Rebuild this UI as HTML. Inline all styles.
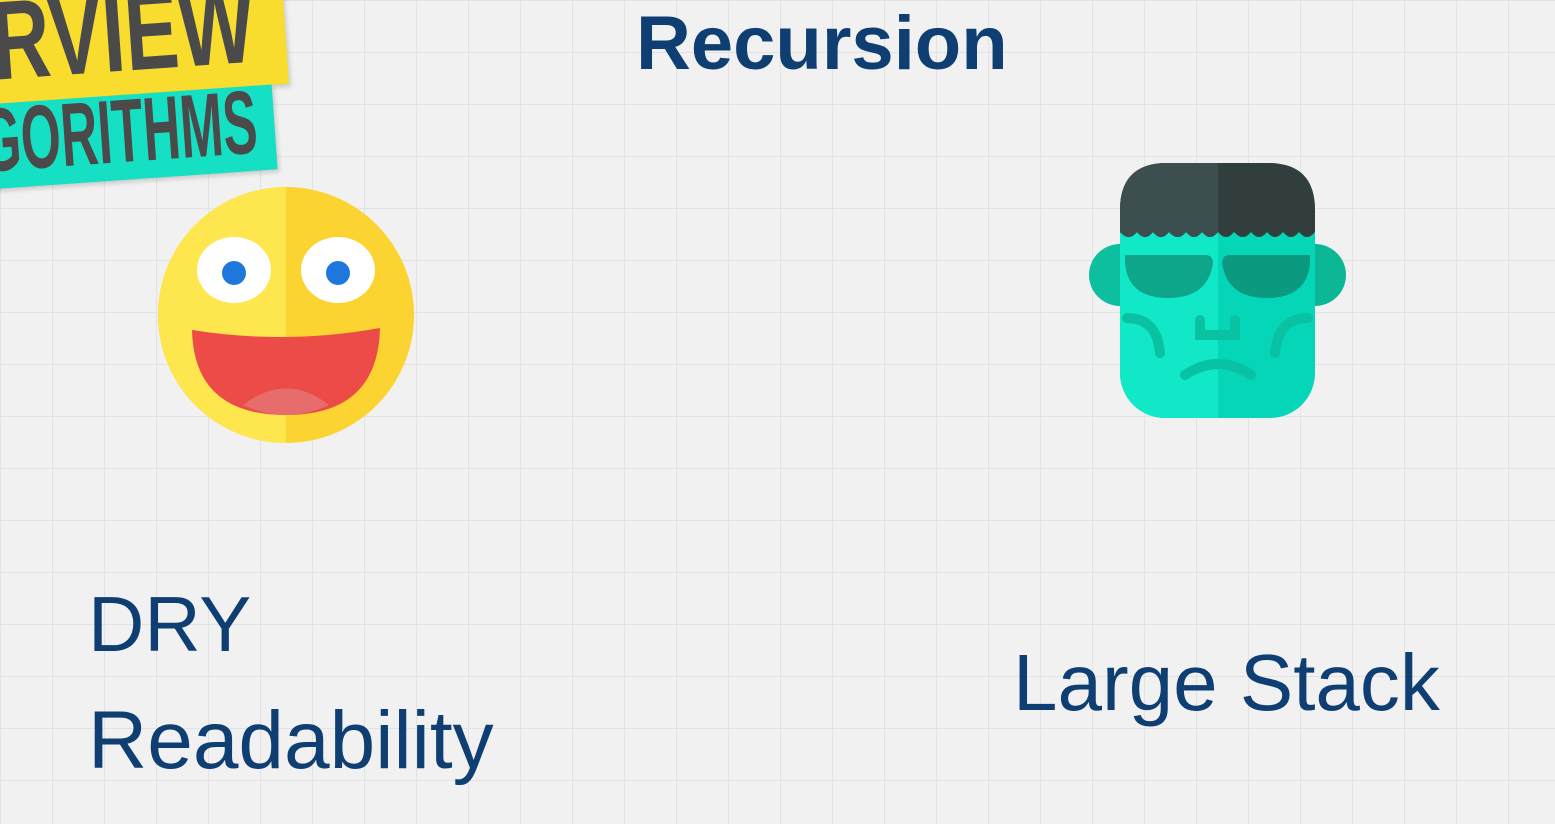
<!DOCTYPE html>
<html><head><meta charset="utf-8"><style>
body{margin:0;width:1555px;height:824px;overflow:hidden;position:relative;font-family:"Liberation Sans",sans-serif;
background-color:#f1f1f1;
background-image:linear-gradient(#e2e2e2 1px,transparent 1px),linear-gradient(90deg,#e2e2e2 1px,transparent 1px);
background-size:52px 52px;}
.t{position:absolute;color:#0f3e72;white-space:nowrap;line-height:1}
.b{position:absolute;font-weight:bold;color:#4a4a4a;white-space:nowrap;line-height:1;transform-origin:left top}
</style></head><body>
<div style="position:absolute;left:-30px;top:-30px;width:315px;height:125px;background:#f8dc2e;transform:rotate(-4deg);box-shadow:2px 3px 4px rgba(0,0,0,.15)"></div>
<div class="b" style="left:-12px;top:-14px;font-size:112px;transform:rotate(-4deg) scaleX(.72)">RVIEW</div>
<div style="position:absolute;left:-30px;top:95px;width:305px;height:85px;background:#16e0c3;transform:rotate(-4deg);box-shadow:2px 3px 4px rgba(0,0,0,.15)"></div>
<div class="b" style="left:-22px;top:97px;font-size:90px;transform:rotate(-4deg) scaleX(.57)">GORITHMS</div>

<div class="t" style="left:636px;top:6px;font-weight:bold;font-size:76px">Recursion</div>
<div class="t" style="left:88px;top:585px;font-size:78px">DRY</div>
<div class="t" style="left:88px;top:700px;font-size:82px">Readability</div>
<div class="t" style="left:1013px;top:643px;font-size:80px">Large Stack</div>

<svg style="position:absolute;left:0;top:0" width="1555" height="824">
<defs><clipPath id="l"><rect x="0" y="0" width="286" height="824"/></clipPath>
<clipPath id="fl"><rect x="0" y="0" width="1218" height="824"/></clipPath></defs>
<circle cx="286" cy="315" r="128" fill="#fbd431"/>
<circle cx="286" cy="315" r="128" fill="#fde64e" clip-path="url(#l)"/>
<ellipse cx="234" cy="270" rx="37" ry="33" fill="#fff"/>
<ellipse cx="338" cy="270" rx="37" ry="33" fill="#fff"/>
<circle cx="234" cy="273" r="12" fill="#1e78dc"/>
<circle cx="338" cy="273" r="12" fill="#1e78dc"/>
<path d="M192 330 Q286 345 380 328 Q378 415 286 415 Q194 415 192 330Z" fill="#ec4b47"/>
<path d="M243 405 Q286 372 329 405 Q286 425 243 405Z" fill="#e76d6c"/>

<circle cx="1120" cy="275" r="31" fill="#0dbf9e"/>
<circle cx="1315" cy="275" r="31" fill="#0cb796"/>
<rect x="1120" y="163" width="195" height="255" rx="45" fill="#06d6b8"/>
<rect x="1120" y="163" width="195" height="255" rx="45" fill="#10e8c8" clip-path="url(#fl)"/>
<g id="hair">
<path d="M1120 232 V210 Q1120 163 1167 163 H1268 Q1315 163 1315 210 V232 Q1307 242 1299 232 Q1291 242 1283 232 Q1275 242 1267 232 Q1259 242 1251 232 Q1243 242 1234 232 Q1226 242 1218 232 Q1210 242 1202 232 Q1194 242 1186 232 Q1178 242 1169 232 Q1161 242 1153 232 Q1145 242 1137 232 Q1129 242 1120 232Z" fill="#323e3e"/>
</g>
<path d="M1120 232 V210 Q1120 163 1167 163 H1218 V232 Q1210 242 1202 232 Q1194 242 1186 232 Q1178 242 1169 232 Q1161 242 1153 232 Q1145 242 1137 232 Q1129 242 1120 232Z" fill="#3d4e4e"/>
<path d="M1125 255 h80 q8 0 8 8 q-5 35 -45 35 q-40 0 -43 -35z" fill="#0da68a"/>
<path d="M1310 255 h-80 q-8 0 -8 8 q5 35 45 35 q40 0 43 -35z" fill="#0b9a80"/>
<g fill="none" stroke="#09c2a2" stroke-width="10" stroke-linecap="round">
<path d="M1127 318 q30 0 33 35"/><path d="M1308 318 q-30 0 -33 35"/>
<path d="M1200 320 v15 h35 v-15"/><path d="M1185 375 q33 -22 66 0"/></g>
</svg>
</body></html>
